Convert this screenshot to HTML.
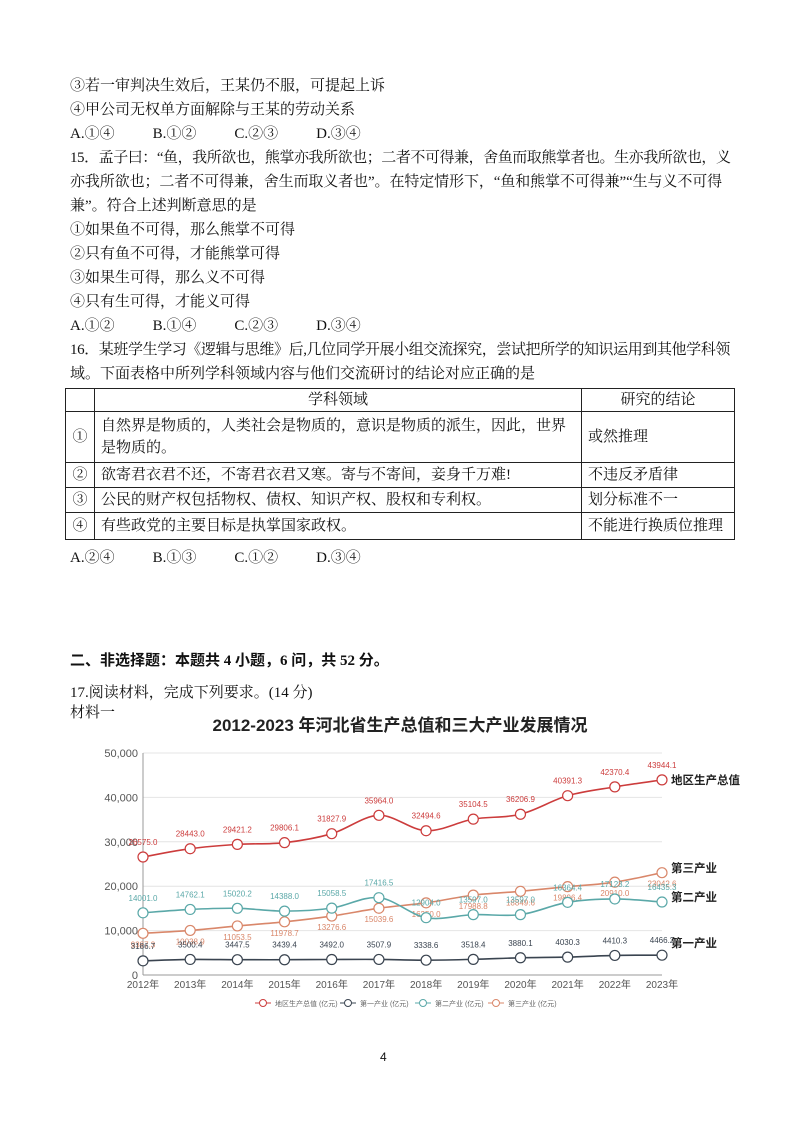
<!DOCTYPE html>
<html><head><meta charset="utf-8">
<style>
body{margin:0;background:#fff;}
.pg{position:relative;width:800px;height:1132px;overflow:hidden;font-family:"Liberation Serif","Noto Serif CJK SC",serif;font-size:15px;color:#111;}
.l{position:absolute;left:70px;white-space:nowrap;line-height:20px;}
table{position:absolute;left:65px;top:388px;width:670px;border-collapse:collapse;font-size:15px;}
td{border:1px solid #222;padding:0 6px;line-height:22px;vertical-align:middle;}
</style></head><body><div class="pg">
<div class="l" style="top:76px">③若一审判决生效后，王某仍不服，可提起上诉</div>
<div class="l" style="top:100px">④甲公司无权单方面解除与王某的劳动关系</div>
<div class="l" style="top:124px">A.①④<span style="margin-left:38px">B.①②</span><span style="margin-left:38px">C.②③</span><span style="margin-left:38px">D.③④</span></div>
<div class="l" style="top:148px;letter-spacing:-0.45px">15．孟子曰：“鱼，我所欲也，熊掌亦我所欲也；二者不可得兼，舍鱼而取熊掌者也。生亦我所欲也，义</div>
<div class="l" style="top:172px;letter-spacing:-0.1px">亦我所欲也；二者不可得兼，舍生而取义者也”。在特定情形下，“鱼和熊掌不可得兼”“生与义不可得</div>
<div class="l" style="top:196px">兼”。符合上述判断意思的是</div>
<div class="l" style="top:220px">①如果鱼不可得，那么熊掌不可得</div>
<div class="l" style="top:244px">②只有鱼不可得，才能熊掌可得</div>
<div class="l" style="top:268px">③如果生可得，那么义不可得</div>
<div class="l" style="top:292px">④只有生可得，才能义可得</div>
<div class="l" style="top:316px">A.①②<span style="margin-left:38px">B.①④</span><span style="margin-left:38px">C.②③</span><span style="margin-left:38px">D.③④</span></div>
<div class="l" style="top:340px;letter-spacing:-0.4px">16．某班学生学习《逻辑与思维》后,几位同学开展小组交流探究，尝试把所学的知识运用到其他学科领</div>
<div class="l" style="top:364px">域。下面表格中所列学科领域内容与他们交流研讨的结论对应正确的是</div>
<table>
<tr style="height:22px"><td style="width:16px"></td><td style="text-align:center;width:474px">学科领域</td><td style="text-align:center">研究的结论</td></tr>
<tr style="height:51px"><td style="text-align:center">①</td><td>自然界是物质的，人类社会是物质的，意识是物质的派生，因此，世界是物质的。</td><td>或然推理</td></tr>
<tr style="height:25px"><td style="text-align:center">②</td><td>欲寄君衣君不还，不寄君衣君又寒。寄与不寄间，妾身千万难!</td><td>不违反矛盾律</td></tr>
<tr style="height:25px"><td style="text-align:center">③</td><td>公民的财产权包括物权、债权、知识产权、股权和专利权。</td><td>划分标准不一</td></tr>
<tr style="height:27px"><td style="text-align:center">④</td><td>有些政党的主要目标是执掌国家政权。</td><td>不能进行换质位推理</td></tr>
</table>
<div class="l" style="top:548px">A.②④<span style="margin-left:38px">B.①③</span><span style="margin-left:38px">C.①②</span><span style="margin-left:38px">D.③④</span></div>
<div class="l" style="top:651px;font-weight:bold;font-family:'Liberation Serif','Noto Sans CJK SC',serif">二、非选择题：本题共 4 小题，6 问，共 52 分。</div>
<div class="l" style="top:683px">17.阅读材料，完成下列要求。(14 分)</div>
<div class="l" style="top:703px">材料一</div>
<svg id="c" style="position:absolute;left:0;top:0" width="800" height="1132" font-family="Liberation Sans,Noto Sans CJK SC,sans-serif"></svg>
<div style="position:absolute;left:380px;top:1050px;font-size:12px;font-family:'Liberation Sans',sans-serif">4</div>
</div>
<script>
const s=document.getElementById('c');let h='';
const X=i=>143+i*(662-143)/11, Y=v=>975-v*(975-753)/50000;
h+=`<text x="400" y="731" text-anchor="middle" font-size="17" font-weight="bold" fill="#222">2012-2023 年河北省生产总值和三大产业发展情况</text>`;
for(let k=0;k<=5;k++){const y=Y(k*10000);h+=`<line x1="143" x2="662" y1="${y}" y2="${y}" stroke="#e4e4e4"/>`;h+=`<text x="138" y="${y+4}" text-anchor="end" font-size="11" fill="#555">${k?(k*10)+',000':'0'}</text>`;}
h+=`<line x1="143" x2="143" y1="753" y2="975" stroke="#999"/><line x1="143" x2="662" y1="975" y2="975" stroke="#999"/>`;
for(let i=0;i<12;i++)h+=`<text x="${X(i)}" y="988" text-anchor="middle" font-size="10" fill="#555">${2012+i}年</text>`;
const D=[
['#cc3c3c',[26575,28443,29421.2,29806.1,31827.9,35964,32494.6,35104.5,36206.9,40391.3,42370.4,43944.1],-12],
['#d9876a',[9387.3,10038.9,11053.5,11978.7,13276.6,15039.6,16250,17988.8,18849.6,19896.4,20910,23042.6],14],
['#5aa8a8',[14001,14762.1,15020.2,14388,15058.5,17416.5,12904,13597,13597,16364.4,17123.2,16435.3],-12],
['#3a4450',[3186.7,3500.4,3447.5,3439.4,3492,3507.9,3338.6,3518.4,3880.1,4030.3,4410.3,4466.2],-12]];
D.forEach(([c,v,o])=>{const p=v.map((a,i)=>[X(i),Y(a)]);let d=`M${p[0]}`;
for(let i=0;i<p.length-1;i++){const p0=p[i-1]||p[i],p1=p[i],p2=p[i+1],p3=p[i+2]||p2;
d+=` C${p1[0]+(p2[0]-p0[0])/6},${p1[1]+(p2[1]-p0[1])/6} ${p2[0]-(p3[0]-p1[0])/6},${p2[1]-(p3[1]-p1[1])/6} ${p2[0]},${p2[1]}`;}
h+=`<path d="${d}" fill="none" stroke="${c}" stroke-width="1.6"/>`;
p.forEach((q,i)=>{h+=`<circle cx="${q[0]}" cy="${q[1]}" r="5" fill="#fff" stroke="${c}" stroke-width="1.2"/>`;h+=`<text x="${q[0]}" y="${q[1]+o}" text-anchor="middle" font-size="8" fill="${c}">${v[i].toFixed(1)}</text>`;});});
[['地区生产总值',784],['第三产业',872],['第二产业',901],['第一产业',947]].forEach(([t,y])=>h+=`<text x="671" y="${y}" font-size="11.5" font-weight="bold" fill="#222">${t}</text>`);
[['#cc3c3c','地区生产总值 (亿元)',255],['#3a4450','第一产业 (亿元)',340],['#5aa8a8','第二产业 (亿元)',415],['#d9876a','第三产业 (亿元)',488]].forEach(([c,t,x])=>{h+=`<line x1="${x}" x2="${x+16}" y1="1003" y2="1003" stroke="${c}"/><circle cx="${x+8}" cy="1003" r="3.5" fill="#fff" stroke="${c}"/><text x="${x+20}" y="1006" font-size="7" fill="#666">${t}</text>`;});
s.innerHTML=h;
</script>
</body></html>
